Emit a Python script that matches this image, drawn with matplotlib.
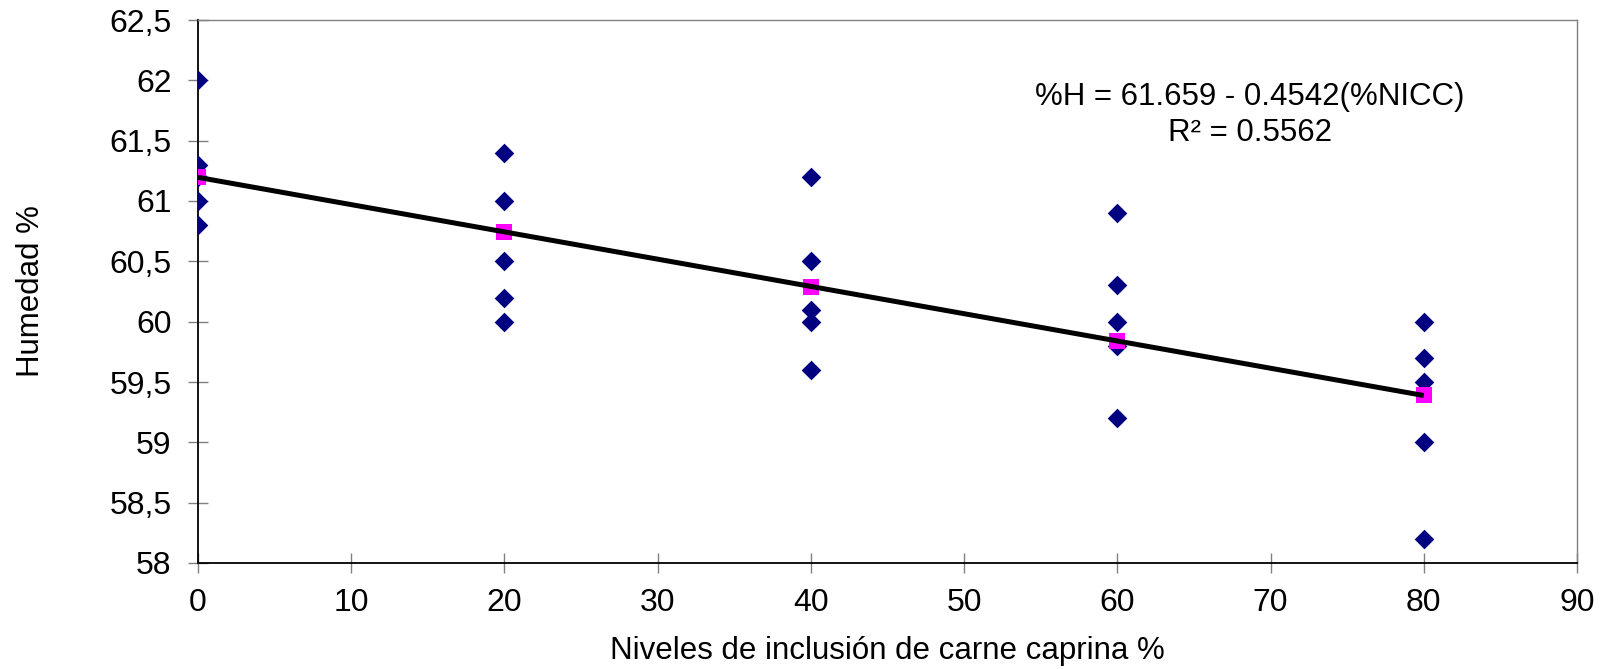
import numpy as np
import matplotlib
matplotlib.use("Agg")
import matplotlib.pyplot as plt
from matplotlib.ticker import FuncFormatter, MultipleLocator

# Data
niveles = [0, 20, 40, 60, 80]
obs_x = [0, 0, 0, 0, 0,
         20, 20, 20, 20, 20,
         40, 40, 40, 40, 40,
         60, 60, 60, 60, 60,
         80, 80, 80, 80, 80]
obs_y = [62.0, 61.3, 61.2, 61.0, 60.8,
         61.4, 61.0, 60.5, 60.2, 60.0,
         61.2, 60.5, 60.1, 60.0, 59.6,
         60.9, 60.3, 60.0, 59.8, 59.2,
         60.0, 59.7, 59.5, 59.0, 58.2]
medias = [61.20, 60.74, 60.29, 59.84, 59.39]
ecuacion = "%H = 61.659 - 0.4542(%NICC)"
r2_texto = "R² = 0.5562"
xlabel = "Niveles de inclusión de carne caprina %"
ylabel = "Humedad %"

plt.rcParams['font.family'] = ['Liberation Sans', 'DejaVu Sans']
FS = 22.5

fig = plt.figure(figsize=(16.05, 6.69), dpi=100)
ax = fig.add_axes([198/1605, 1 - 563/669, (1577-198)/1605, (563-20)/669])

ax.scatter(obs_x, obs_y, marker='D', s=100, color='#000080', zorder=3, linewidths=0)
ax.scatter(niveles, medias, marker='s', s=130, color='#FF00FF', zorder=4, linewidths=0)
coef = np.polyfit(niveles, medias, 1)
xl = np.array([niveles[0], niveles[-1]])
ax.plot(xl, np.polyval(coef, xl), color='black', lw=3.6, zorder=5, solid_capstyle='butt')

ax.set_xlim(0, 90)
ax.set_ylim(58, 62.5)
ax.xaxis.set_major_locator(MultipleLocator(10))
ax.yaxis.set_major_locator(MultipleLocator(0.5))
ax.yaxis.set_major_formatter(FuncFormatter(lambda v, p: (f"{v:g}").replace('.', ',')))

ax.tick_params(axis='both', direction='inout', length=14, width=1, color='#808080',
               labelsize=23)
ax.tick_params(axis='y', pad=12)
ax.tick_params(axis='x', pad=11)
for s in ['left', 'bottom']:
    ax.spines[s].set_color('black')
    ax.spines[s].set_linewidth(1.3)
for s in ['top', 'right']:
    ax.spines[s].set_color('#808080')
    ax.spines[s].set_linewidth(1.0)

ax.set_xlabel(xlabel, fontsize=FS)
ax.set_ylabel(ylabel, fontsize=FS)
ax.xaxis.set_label_coords(0.5, (563 - 636) / 543)
ax.yaxis.set_label_coords((46 - 198) / 1379, 0.5)

fig.text(1250/1605, 1 - 97/669, ecuacion, ha='center', va='center', fontsize=FS)
fig.text(1250/1605, 1 - 133/669, r2_texto, ha='center', va='center', fontsize=FS)

fig.savefig("out.png", dpi=100)
